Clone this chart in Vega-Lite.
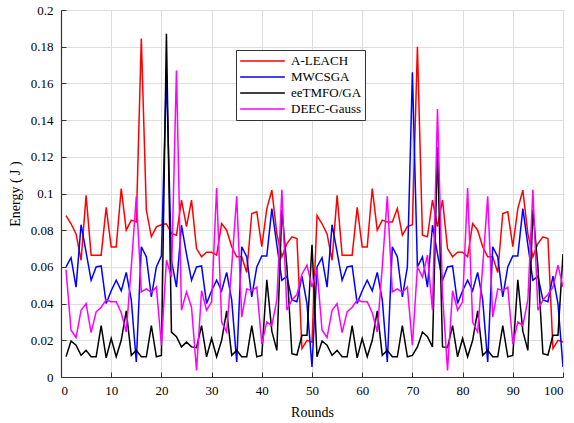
{
  "$schema": "https://vega.github.io/schema/vega-lite/v6.json",
  "width": 502,
  "height": 367,
  "autosize": {"type": "none"},
  "padding": {"left": 61, "top": 10, "right": 11, "bottom": 46},
  "background": "white",
  "data": {"values": [
    {"r":1,"A-LEACH":0.088,"MWCSGA":0.060,"eeTMFO/GA":0.011,"DEEC-Gauss":0.0585},
    {"r":2,"A-LEACH":0.0835,"MWCSGA":0.065,"eeTMFO/GA":0.0196,"DEEC-Gauss":0.0255},
    {"r":3,"A-LEACH":0.078,"MWCSGA":0.049,"eeTMFO/GA":0.0173,"DEEC-Gauss":0.0215},
    {"r":4,"A-LEACH":0.0636,"MWCSGA":0.083,"eeTMFO/GA":0.0118,"DEEC-Gauss":0.0364},
    {"r":5,"A-LEACH":0.099,"MWCSGA":0.068,"eeTMFO/GA":0.0145,"DEEC-Gauss":0.040},
    {"r":6,"A-LEACH":0.0664,"MWCSGA":0.0527,"eeTMFO/GA":0.011,"DEEC-Gauss":0.0242},
    {"r":7,"A-LEACH":0.0664,"MWCSGA":0.060,"eeTMFO/GA":0.011,"DEEC-Gauss":0.0355},
    {"r":8,"A-LEACH":0.0664,"MWCSGA":0.0605,"eeTMFO/GA":0.028,"DEEC-Gauss":0.038},
    {"r":9,"A-LEACH":0.0924,"MWCSGA":0.040,"eeTMFO/GA":0.0104,"DEEC-Gauss":0.042},
    {"r":10,"A-LEACH":0.0709,"MWCSGA":0.047,"eeTMFO/GA":0.021,"DEEC-Gauss":0.041},
    {"r":11,"A-LEACH":0.0709,"MWCSGA":0.0527,"eeTMFO/GA":0.011,"DEEC-Gauss":0.041},
    {"r":12,"A-LEACH":0.1027,"MWCSGA":0.047,"eeTMFO/GA":0.020,"DEEC-Gauss":0.035},
    {"r":13,"A-LEACH":0.080,"MWCSGA":0.057,"eeTMFO/GA":0.036,"DEEC-Gauss":0.0245},
    {"r":14,"A-LEACH":0.0855,"MWCSGA":0.042,"eeTMFO/GA":0.0118,"DEEC-Gauss":0.060},
    {"r":15,"A-LEACH":0.0845,"MWCSGA":0.0082,"eeTMFO/GA":0.0145,"DEEC-Gauss":0.0985},
    {"r":16,"A-LEACH":0.1845,"MWCSGA":0.071,"eeTMFO/GA":0.011,"DEEC-Gauss":0.0464},
    {"r":17,"A-LEACH":0.091,"MWCSGA":0.0655,"eeTMFO/GA":0.011,"DEEC-Gauss":0.048},
    {"r":18,"A-LEACH":0.0764,"MWCSGA":0.0436,"eeTMFO/GA":0.028,"DEEC-Gauss":0.046},
    {"r":19,"A-LEACH":0.0818,"MWCSGA":0.060,"eeTMFO/GA":0.011,"DEEC-Gauss":0.049},
    {"r":20,"A-LEACH":0.083,"MWCSGA":0.066,"eeTMFO/GA":0.0118,"DEEC-Gauss":0.0173},
    {"r":21,"A-LEACH":0.0835,"MWCSGA":0.165,"eeTMFO/GA":0.187,"DEEC-Gauss":0.0636},
    {"r":22,"A-LEACH":0.0782,"MWCSGA":0.0636,"eeTMFO/GA":0.0245,"DEEC-Gauss":0.0545},
    {"r":23,"A-LEACH":0.0773,"MWCSGA":0.049,"eeTMFO/GA":0.022,"DEEC-Gauss":0.167},
    {"r":24,"A-LEACH":0.0964,"MWCSGA":0.0827,"eeTMFO/GA":0.0164,"DEEC-Gauss":0.0364},
    {"r":25,"A-LEACH":0.082,"MWCSGA":0.067,"eeTMFO/GA":0.019,"DEEC-Gauss":0.0464},
    {"r":26,"A-LEACH":0.0964,"MWCSGA":0.0527,"eeTMFO/GA":0.0164,"DEEC-Gauss":0.038},
    {"r":27,"A-LEACH":0.070,"MWCSGA":0.060,"eeTMFO/GA":0.016,"DEEC-Gauss":0.0036},
    {"r":28,"A-LEACH":0.0655,"MWCSGA":0.0605,"eeTMFO/GA":0.028,"DEEC-Gauss":0.047},
    {"r":29,"A-LEACH":0.068,"MWCSGA":0.040,"eeTMFO/GA":0.011,"DEEC-Gauss":0.0364},
    {"r":30,"A-LEACH":0.068,"MWCSGA":0.047,"eeTMFO/GA":0.021,"DEEC-Gauss":0.041},
    {"r":31,"A-LEACH":0.0664,"MWCSGA":0.0527,"eeTMFO/GA":0.011,"DEEC-Gauss":0.103},
    {"r":32,"A-LEACH":0.0836,"MWCSGA":0.047,"eeTMFO/GA":0.020,"DEEC-Gauss":0.030},
    {"r":33,"A-LEACH":0.080,"MWCSGA":0.057,"eeTMFO/GA":0.036,"DEEC-Gauss":0.0245},
    {"r":34,"A-LEACH":0.071,"MWCSGA":0.042,"eeTMFO/GA":0.0118,"DEEC-Gauss":0.060},
    {"r":35,"A-LEACH":0.0655,"MWCSGA":0.0082,"eeTMFO/GA":0.0145,"DEEC-Gauss":0.0985},
    {"r":36,"A-LEACH":0.0655,"MWCSGA":0.071,"eeTMFO/GA":0.011,"DEEC-Gauss":0.0327},
    {"r":37,"A-LEACH":0.057,"MWCSGA":0.0655,"eeTMFO/GA":0.011,"DEEC-Gauss":0.048},
    {"r":38,"A-LEACH":0.0891,"MWCSGA":0.0436,"eeTMFO/GA":0.028,"DEEC-Gauss":0.047},
    {"r":39,"A-LEACH":0.090,"MWCSGA":0.060,"eeTMFO/GA":0.011,"DEEC-Gauss":0.049},
    {"r":40,"A-LEACH":0.071,"MWCSGA":0.066,"eeTMFO/GA":0.0118,"DEEC-Gauss":0.018},
    {"r":41,"A-LEACH":0.0918,"MWCSGA":0.066,"eeTMFO/GA":0.053,"DEEC-Gauss":0.030},
    {"r":42,"A-LEACH":0.1018,"MWCSGA":0.0918,"eeTMFO/GA":0.025,"DEEC-Gauss":0.028},
    {"r":43,"A-LEACH":0.078,"MWCSGA":0.072,"eeTMFO/GA":0.0145,"DEEC-Gauss":0.042},
    {"r":44,"A-LEACH":0.0655,"MWCSGA":0.0527,"eeTMFO/GA":0.091,"DEEC-Gauss":0.102},
    {"r":45,"A-LEACH":0.0727,"MWCSGA":0.055,"eeTMFO/GA":0.060,"DEEC-Gauss":0.0364},
    {"r":46,"A-LEACH":0.0764,"MWCSGA":0.042,"eeTMFO/GA":0.0127,"DEEC-Gauss":0.042},
    {"r":47,"A-LEACH":0.0755,"MWCSGA":0.041,"eeTMFO/GA":0.012,"DEEC-Gauss":0.045},
    {"r":48,"A-LEACH":0.0155,"MWCSGA":0.055,"eeTMFO/GA":0.0227,"DEEC-Gauss":0.056},
    {"r":49,"A-LEACH":0.020,"MWCSGA":0.040,"eeTMFO/GA":0.0227,"DEEC-Gauss":0.061},
    {"r":50,"A-LEACH":0.019,"MWCSGA":0.0055,"eeTMFO/GA":0.072,"DEEC-Gauss":0.049},
    {"r":51,"A-LEACH":0.088,"MWCSGA":0.060,"eeTMFO/GA":0.011,"DEEC-Gauss":0.0585},
    {"r":52,"A-LEACH":0.0835,"MWCSGA":0.065,"eeTMFO/GA":0.0196,"DEEC-Gauss":0.0255},
    {"r":53,"A-LEACH":0.078,"MWCSGA":0.049,"eeTMFO/GA":0.0173,"DEEC-Gauss":0.0215},
    {"r":54,"A-LEACH":0.0636,"MWCSGA":0.083,"eeTMFO/GA":0.0118,"DEEC-Gauss":0.0364},
    {"r":55,"A-LEACH":0.099,"MWCSGA":0.068,"eeTMFO/GA":0.0145,"DEEC-Gauss":0.040},
    {"r":56,"A-LEACH":0.0664,"MWCSGA":0.0527,"eeTMFO/GA":0.011,"DEEC-Gauss":0.0242},
    {"r":57,"A-LEACH":0.0664,"MWCSGA":0.060,"eeTMFO/GA":0.011,"DEEC-Gauss":0.0355},
    {"r":58,"A-LEACH":0.0664,"MWCSGA":0.0605,"eeTMFO/GA":0.028,"DEEC-Gauss":0.038},
    {"r":59,"A-LEACH":0.0924,"MWCSGA":0.040,"eeTMFO/GA":0.0104,"DEEC-Gauss":0.042},
    {"r":60,"A-LEACH":0.0709,"MWCSGA":0.047,"eeTMFO/GA":0.021,"DEEC-Gauss":0.041},
    {"r":61,"A-LEACH":0.0709,"MWCSGA":0.0527,"eeTMFO/GA":0.011,"DEEC-Gauss":0.041},
    {"r":62,"A-LEACH":0.1027,"MWCSGA":0.047,"eeTMFO/GA":0.020,"DEEC-Gauss":0.035},
    {"r":63,"A-LEACH":0.080,"MWCSGA":0.057,"eeTMFO/GA":0.036,"DEEC-Gauss":0.0245},
    {"r":64,"A-LEACH":0.0855,"MWCSGA":0.042,"eeTMFO/GA":0.0118,"DEEC-Gauss":0.060},
    {"r":65,"A-LEACH":0.0845,"MWCSGA":0.0082,"eeTMFO/GA":0.0145,"DEEC-Gauss":0.0985},
    {"r":66,"A-LEACH":0.0845,"MWCSGA":0.071,"eeTMFO/GA":0.011,"DEEC-Gauss":0.0464},
    {"r":67,"A-LEACH":0.0918,"MWCSGA":0.0655,"eeTMFO/GA":0.011,"DEEC-Gauss":0.048},
    {"r":68,"A-LEACH":0.0773,"MWCSGA":0.0436,"eeTMFO/GA":0.028,"DEEC-Gauss":0.046},
    {"r":69,"A-LEACH":0.082,"MWCSGA":0.060,"eeTMFO/GA":0.011,"DEEC-Gauss":0.049},
    {"r":70,"A-LEACH":0.083,"MWCSGA":0.166,"eeTMFO/GA":0.0118,"DEEC-Gauss":0.0173},
    {"r":71,"A-LEACH":0.180,"MWCSGA":0.060,"eeTMFO/GA":0.0164,"DEEC-Gauss":0.060},
    {"r":72,"A-LEACH":0.0773,"MWCSGA":0.0655,"eeTMFO/GA":0.0245,"DEEC-Gauss":0.0545},
    {"r":73,"A-LEACH":0.0764,"MWCSGA":0.049,"eeTMFO/GA":0.022,"DEEC-Gauss":0.0664},
    {"r":74,"A-LEACH":0.0964,"MWCSGA":0.0827,"eeTMFO/GA":0.0164,"DEEC-Gauss":0.0364},
    {"r":75,"A-LEACH":0.082,"MWCSGA":0.067,"eeTMFO/GA":0.125,"DEEC-Gauss":0.146},
    {"r":76,"A-LEACH":0.0964,"MWCSGA":0.0527,"eeTMFO/GA":0.0164,"DEEC-Gauss":0.045},
    {"r":77,"A-LEACH":0.070,"MWCSGA":0.060,"eeTMFO/GA":0.016,"DEEC-Gauss":0.0036},
    {"r":78,"A-LEACH":0.0655,"MWCSGA":0.0605,"eeTMFO/GA":0.028,"DEEC-Gauss":0.047},
    {"r":79,"A-LEACH":0.068,"MWCSGA":0.040,"eeTMFO/GA":0.011,"DEEC-Gauss":0.0364},
    {"r":80,"A-LEACH":0.068,"MWCSGA":0.047,"eeTMFO/GA":0.021,"DEEC-Gauss":0.041},
    {"r":81,"A-LEACH":0.0655,"MWCSGA":0.0527,"eeTMFO/GA":0.011,"DEEC-Gauss":0.103},
    {"r":82,"A-LEACH":0.0836,"MWCSGA":0.047,"eeTMFO/GA":0.020,"DEEC-Gauss":0.030},
    {"r":83,"A-LEACH":0.080,"MWCSGA":0.057,"eeTMFO/GA":0.036,"DEEC-Gauss":0.0245},
    {"r":84,"A-LEACH":0.071,"MWCSGA":0.042,"eeTMFO/GA":0.0118,"DEEC-Gauss":0.060},
    {"r":85,"A-LEACH":0.0655,"MWCSGA":0.0082,"eeTMFO/GA":0.0145,"DEEC-Gauss":0.0985},
    {"r":86,"A-LEACH":0.0655,"MWCSGA":0.071,"eeTMFO/GA":0.011,"DEEC-Gauss":0.0327},
    {"r":87,"A-LEACH":0.057,"MWCSGA":0.0655,"eeTMFO/GA":0.011,"DEEC-Gauss":0.048},
    {"r":88,"A-LEACH":0.0891,"MWCSGA":0.0436,"eeTMFO/GA":0.028,"DEEC-Gauss":0.047},
    {"r":89,"A-LEACH":0.090,"MWCSGA":0.060,"eeTMFO/GA":0.011,"DEEC-Gauss":0.049},
    {"r":90,"A-LEACH":0.071,"MWCSGA":0.066,"eeTMFO/GA":0.0118,"DEEC-Gauss":0.018},
    {"r":91,"A-LEACH":0.0918,"MWCSGA":0.066,"eeTMFO/GA":0.053,"DEEC-Gauss":0.030},
    {"r":92,"A-LEACH":0.1018,"MWCSGA":0.0918,"eeTMFO/GA":0.025,"DEEC-Gauss":0.028},
    {"r":93,"A-LEACH":0.078,"MWCSGA":0.072,"eeTMFO/GA":0.0145,"DEEC-Gauss":0.042},
    {"r":94,"A-LEACH":0.0655,"MWCSGA":0.0527,"eeTMFO/GA":0.091,"DEEC-Gauss":0.102},
    {"r":95,"A-LEACH":0.0727,"MWCSGA":0.055,"eeTMFO/GA":0.060,"DEEC-Gauss":0.0364},
    {"r":96,"A-LEACH":0.0764,"MWCSGA":0.042,"eeTMFO/GA":0.0127,"DEEC-Gauss":0.042},
    {"r":97,"A-LEACH":0.0755,"MWCSGA":0.041,"eeTMFO/GA":0.012,"DEEC-Gauss":0.045},
    {"r":98,"A-LEACH":0.0155,"MWCSGA":0.055,"eeTMFO/GA":0.0227,"DEEC-Gauss":0.049},
    {"r":99,"A-LEACH":0.020,"MWCSGA":0.040,"eeTMFO/GA":0.0227,"DEEC-Gauss":0.061},
    {"r":100,"A-LEACH":0.019,"MWCSGA":0.0055,"eeTMFO/GA":0.067,"DEEC-Gauss":0.049}
  ]},
  "transform": [
    {"fold": ["A-LEACH", "MWCSGA", "eeTMFO/GA", "DEEC-Gauss"], "as": ["series", "energy"]}
  ],
  "mark": {"type": "line", "strokeWidth": 1.5, "clip": true},
  "encoding": {
    "x": {
      "field": "r", "type": "quantitative", "title": "Rounds",
      "scale": {"domain": [0, 100], "nice": false},
      "axis": {"values": [0,10,20,30,40,50,60,70,80,90,100], "tickSize": -5, "labelPadding": 12, "titlePadding": 8}
    },
    "y": {
      "field": "energy", "type": "quantitative", "title": "Energy ( J )",
      "scale": {"domain": [0, 0.2], "nice": false},
      "axis": {"values": [0,0.02,0.04,0.06,0.08,0.1,0.12,0.14,0.16,0.18,0.2], "format": ".2~f", "tickSize": -5, "labelPadding": 13, "titlePadding": 8}
    },
    "color": {
      "field": "series", "type": "nominal",
      "scale": {"domain": ["A-LEACH", "MWCSGA", "eeTMFO/GA", "DEEC-Gauss"], "range": ["#ff0000", "#0000ff", "#000000", "#ff00ff"]},
      "legend": {"title": null, "orient": "none", "legendX": 175, "legendY": 40, "symbolType": "stroke", "symbolSize": 2000, "clipHeight": 16, "symbolStrokeWidth": 1.5, "strokeColor": "#333333", "fillColor": "white", "padding": 3, "labelFont": "'Liberation Serif', serif", "labelFontSize": 13, "labelColor": "#000", "rowPadding": 0, "labelOffset": 5}
    }
  },
  "config": {
    "view": {"stroke": null},
    "axis": {
      "labelFont": "'Liberation Serif', serif", "titleFont": "'Liberation Serif', serif",
      "labelFontSize": 13, "titleFontSize": 14, "titleFontWeight": "normal",
      "labelColor": "#000", "titleColor": "#000",
      "domainColor": "#333", "tickColor": "#333", "domainWidth": 1.2,
      "gridColor": "#dddddd", "gridWidth": 1
    }
  }
}
